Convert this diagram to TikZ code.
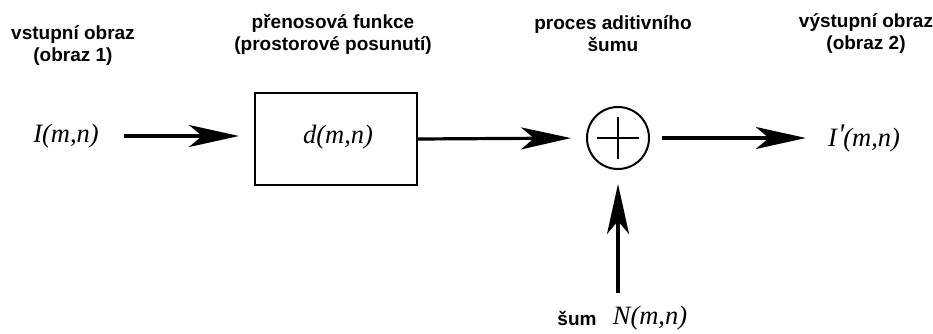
\documentclass[tikz,border=0pt]{standalone}
\usepackage{fontspec}
\setmainfont{Liberation Serif}
\newfontfamily\labelsans{Liberation Sans}
\usetikzlibrary{arrows.meta}
\tikzset{
  caption/.style={font=\labelsans\bfseries\fontsize{19}{22}\selectfont, align=center, inner sep=0pt},
  signal/.style={font=\itshape\fontsize{26.5}{30}\selectfont, inner sep=0pt},
  flow/.style={line width=3.2pt, -{Stealth[length=50pt,width=22pt,inset=13pt]}},
  block/.style={draw, line width=2pt, minimum width=162pt, minimum height=92pt, inner sep=0pt},
  adder/.style={draw, circle, line width=2pt, minimum size=62pt, inner sep=0pt},
}
\begin{document}
\begin{tikzpicture}[x=1pt,y=-1pt]
\useasboundingbox (0,0) rectangle (933,334);
% captions
\node[caption] (capin)  at (73,46)  {vstupní obraz\\(obraz 1)};
\node[caption] (capblk) at (333,34) {přenosová funkce\\(prostorové posunutí)};
\node[caption] (capsum) at (613,34) {proces aditivního\\šumu};
\node[caption] (capout) at (866,34) {výstupní obraz\\(obraz 2)};
% signals and blocks
\node[signal] (in) at (66,136) {I(m,n)};
\node[block] (box) at (336,139) {};
\node[signal] (d) at (338,137) {d(m,n)};
\node[adder] (sum) at (618,138) {};
\draw[line width=1.6pt] ([xshift=-21pt]sum.center) -- ([xshift=21pt]sum.center)
                        ([yshift=-21pt]sum.center) -- ([yshift=21pt]sum.center);
\node[signal] (out) at (864,138)
  {I\kern1pt\raisebox{2pt}{\fontsize{30}{30}\selectfont\textquotesingle}\kern-1pt(m,n)};
\coordinate (noise) at (618,293);
\node[signal] (N) at (650,318) {N(m,n)};
\node[caption] (sumlab) at (577,318) {šum};
% connectors
\draw[flow, shorten <=25pt, shorten >=15pt] (in.east) -- (in.east -| box.west);
\draw[flow, shorten >=15pt] (box.east) -- (sum.west);
\draw[flow, shorten <=12pt, shorten >=22pt] (sum.east) -- (out.west |- sum.east);
\draw[flow, shorten >=14pt] (noise) -- (sum.south);
\end{tikzpicture}
\end{document}
